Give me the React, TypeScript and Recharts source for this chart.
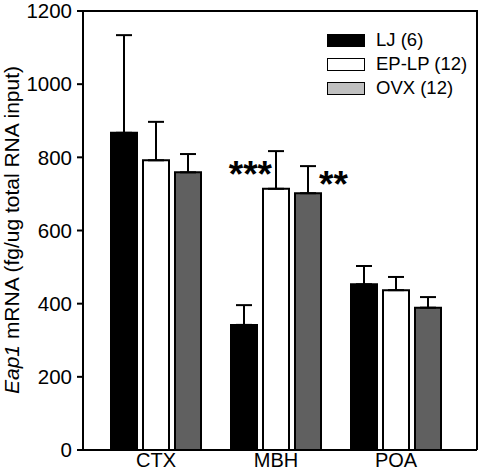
import React from 'react';
import { BarChart, Bar, XAxis, YAxis, ErrorBar, Legend } from 'recharts';

const categories = ['CTX', 'MBH', 'POA'];
const seriesNames = ['LJ (6)', 'EP-LP (12)', 'OVX (12)'];
const ljValues = [867, 342, 453];
const ljErrors = [267, 54, 50];
const epValues = [792, 714, 437];
const epErrors = [105, 103, 36];
const ovxValues = [759, 702, 389];
const ovxErrors = [50, 74, 29];
const epStars = ['', '***', ''];
const ovxStars = ['', '**', ''];
const yTicks = [0, 200, 400, 600, 800, 1000, 1200];

const barFills = ['#000000', '#ffffff', '#606060'];
const legendFills = ['#000000', '#ffffff', '#c0c0c0'];
const FONT = '"Liberation Sans", Arial, sans-serif';

const CHART_W = 480;
const CHART_H = 472;
const MARGIN = { top: 11, right: 3, left: 0, bottom: 0 };
const Y_AXIS_W = 83;
const X_AXIS_H = 22;

const data = categories.map((c, i) => ({
  name: c,
  lj: ljValues[i],
  ljErr: [0, ljErrors[i]],
  ep: epValues[i],
  epErr: [0, epErrors[i]],
  ovx: ovxValues[i],
  ovxErr: [0, ovxErrors[i]],
}));

const LegendContent = () => (
  <div style={{ fontFamily: FONT, fontSize: 18.5, color: '#000' }}>
    {seriesNames.map((n, i) => (
      <div key={n} style={{ display: 'flex', alignItems: 'center', height: 24 }}>
        <div
          style={{
            width: 36,
            height: 11,
            background: legendFills[i],
            border: '1.5px solid #000',
            marginRight: 11,
          }}
        />
        <span>{n}</span>
      </div>
    ))}
  </div>
);

const makeStarLabel = (stars: string[], side: 'left' | 'right') => (props: any) => {
  const { x, y, width, index } = props;
  const s = stars[index];
  if (!s) return null;
  const cx = Number(x) + Number(width) / 2;
  if (side === 'left') {
    return (
      <text x={cx - 4} y={Number(y) - 2} textAnchor="end" fontFamily={FONT} fontWeight="bold" fontSize={37} fill="#000">
        {s}
      </text>
    );
  }
  return (
    <text x={Number(x) + Number(width) - 2} y={Number(y) + 4} textAnchor="start" fontFamily={FONT} fontWeight="bold" fontSize={37} fill="#000">
      {s}
    </text>
  );
};

const YLabel = () => (
  <text
    x={19}
    y={230}
    transform="rotate(-90, 19, 230)"
    textAnchor="middle"
    fontFamily={FONT}
    fontSize={21}
    fill="#000"
  >
    <tspan fontStyle="italic">Eap1</tspan>
    <tspan> mRNA (fg/ug total RNA input)</tspan>
  </text>
);

// Plot-area frame (top and right edges), derived from the chart's margins and axis sizes.
const plotLeft = MARGIN.left + Y_AXIS_W;
const plotTop = MARGIN.top;
const plotRight = CHART_W - MARGIN.right;
const plotBottom = CHART_H - MARGIN.bottom - X_AXIS_H;

export default function App() {
  return (
    <div style={{ position: 'absolute', left: 0, top: 0, width: CHART_W, height: CHART_H, background: '#fff' }}>
      <BarChart
        width={CHART_W}
        height={CHART_H}
        data={data}
        margin={MARGIN}
        barCategoryGap={15}
        barGap={6}
      >
        <XAxis
          dataKey="name"
          height={X_AXIS_H}
          padding={{ left: 13, right: 21 }}
          tickLine={false}
          tickSize={3}
          tickMargin={0}
          axisLine={{ stroke: '#000', strokeWidth: 2 }}
          tick={{ fill: '#000', fontSize: 20, fontFamily: FONT }}
          interval={0}
        />
        <YAxis
          width={Y_AXIS_W}
          domain={[0, 1200]}
          ticks={yTicks}
          interval={0}
          tickSize={6}
          tickMargin={5}
          tickLine={{ stroke: '#000', strokeWidth: 2 }}
          axisLine={{ stroke: '#000', strokeWidth: 2 }}
          tick={{ fill: '#000', fontSize: 20.5, fontFamily: FONT }}
          label={<YLabel />}
        />
        <Legend
          layout="horizontal"
          verticalAlign="middle"
          align="center"
          content={<LegendContent />}
          wrapperStyle={{ position: 'absolute', left: 327, top: 28, width: 150, height: 80 }}
        />
        <Bar dataKey="lj" name={seriesNames[0]} fill={barFills[0]} stroke="#000" strokeWidth={2} isAnimationActive={false}>
          <ErrorBar dataKey="ljErr" width={8} stroke="#000" strokeWidth={2} direction="y" />
        </Bar>
        <Bar
          dataKey="ep"
          name={seriesNames[1]}
          fill={barFills[1]}
          stroke="#000"
          strokeWidth={2}
          isAnimationActive={false}
          label={makeStarLabel(epStars, 'left')}
        >
          <ErrorBar dataKey="epErr" width={8} stroke="#000" strokeWidth={2} direction="y" />
        </Bar>
        <Bar
          dataKey="ovx"
          name={seriesNames[2]}
          fill={barFills[2]}
          stroke="#000"
          strokeWidth={2}
          isAnimationActive={false}
          label={makeStarLabel(ovxStars, 'right')}
        >
          <ErrorBar dataKey="ovxErr" width={8} stroke="#000" strokeWidth={2} direction="y" />
        </Bar>
      </BarChart>
      <div
        style={{
          position: 'absolute',
          left: plotLeft,
          top: plotTop - 1,
          width: plotRight - plotLeft + 1,
          height: plotBottom - plotTop + 1,
          borderTop: '2px solid #000',
          borderRight: '2px solid #000',
          boxSizing: 'border-box',
          pointerEvents: 'none',
          zIndex: 5,
        }}
      />
    </div>
  );
}
